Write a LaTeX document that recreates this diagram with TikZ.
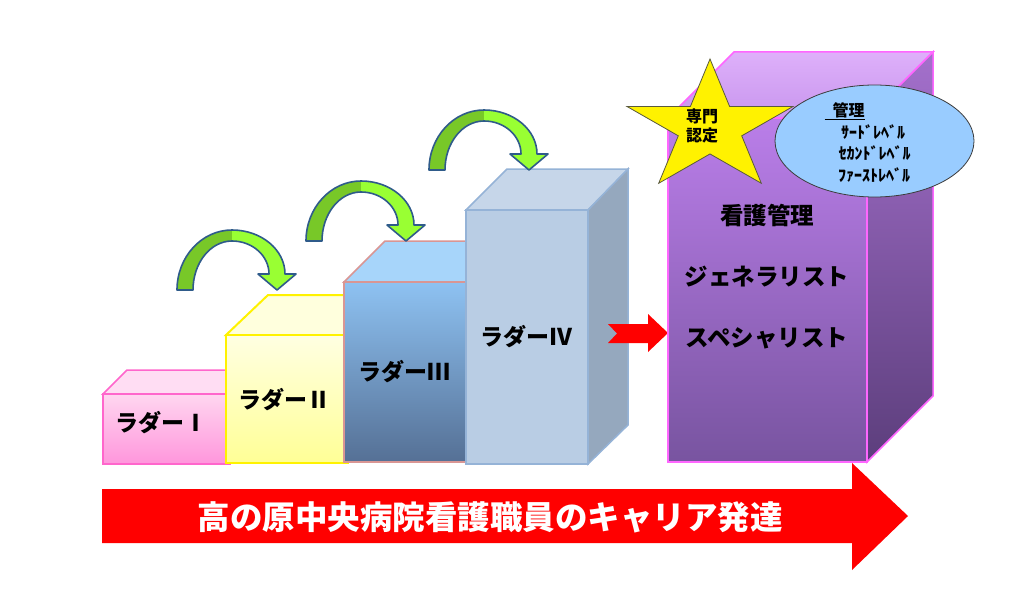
\documentclass[tikz,border=0pt]{standalone}
\usepackage{fontspec}
\newfontfamily\cjk{Noto Sans CJK JP}
\usetikzlibrary{shapes.geometric}
\definecolor{gdark}{HTML}{78C828}
\definecolor{glight}{HTML}{99FF33}
\definecolor{gline}{HTML}{2F5B8A}
\definecolor{pinkline}{HTML}{FF66CC}
\definecolor{blueline3}{HTML}{D99694}
\definecolor{line4}{HTML}{95B3D7}
\definecolor{vline}{HTML}{FF66FF}
\definecolor{ellfill}{HTML}{99CCFF}
\newcommand\GArrowPath{(177,290) arc[start angle=180,end angle=270,x radius=55,y radius=60]
  arc[start angle=270,end angle=360,x radius=53,y radius=44]
  -- (296,274) -- (277,290) -- (258,274) -- (269,274)
  arc[start angle=0,end angle=-90,x radius=37,y radius=33]
  arc[start angle=270,end angle=180,x radius=39,y radius=49] -- cycle}
\tikzset{
  lbl/.style={font=\cjk\bfseries\fontsize{23}{25}\selectfont, text=black, inner sep=0pt},
  vtxt/.style={font=\cjk\bfseries\fontsize{23.5}{26}\selectfont, text=black, inner sep=0pt},
  etxt/.style={font=\cjk\bfseries\fontsize{16}{18}\selectfont, text=black, inner sep=0pt},
  garrow/.pic={
    \fill[gdark] \GArrowPath;
    \begin{scope}\clip (232,200) rectangle (320,300); \fill[glight] \GArrowPath; \end{scope}
    \draw[gline, line width=1.6pt, line join=round] \GArrowPath;
  }
}
\begin{document}
\begin{tikzpicture}[x=1pt,y=-1pt]
\useasboundingbox[fill=white] (0,0) rectangle (1024,615);

% Box I
\draw[pinkline, line width=1.5pt, fill={rgb,255:red,255;green,221;blue,243}] (103,394) -- (127,370) -- (254,370) -- (230,394) -- cycle;
\draw[pinkline, line width=1.5pt, top color={rgb,255:red,255;green,214;blue,240}, bottom color={rgb,255:red,255;green,150;blue,220}] (103,394) rectangle (230,464);
% Box II
\draw[yellow, line width=2pt, fill={rgb,255:red,255;green,255;blue,221}] (226,335) -- (268,295) -- (390,295) -- (348,335) -- cycle;
\draw[yellow, line width=2pt, top color={rgb,255:red,255;green,255;blue,226}, bottom color={rgb,255:red,255;green,255;blue,150}] (226,335) rectangle (348,463);
% Box III
\draw[blueline3, line width=1.5pt, fill={rgb,255:red,167;green,213;blue,250}] (344,282) -- (385,241) -- (507,241) -- (466,282) -- cycle;
\draw[blueline3, line width=1.5pt, top color={rgb,255:red,142;green,194;blue,242}, bottom color={rgb,255:red,85;green,112;blue,149}] (344,282) rectangle (466,462);
% Box IV
\draw[line4, line width=1.5pt, fill={rgb,255:red,198;green,214;blue,233}] (466,210) -- (507,169) -- (628,169) -- (588,210) -- cycle;
\draw[line4, line width=1.5pt, fill={rgb,255:red,149;green,168;blue,190}] (588,210) -- (628,169) -- (628,425) -- (588,464) -- cycle;
\draw[line4, line width=1.5pt, fill={rgb,255:red,185;green,205;blue,228}] (466,210) rectangle (588,464);

% small red arrow
\fill[red] (608,324) -- (648,324) -- (648,314) -- (668,333) -- (648,352) -- (648,343) -- (608,343) -- (617,333.5) -- cycle;

% Box V
\draw[vline, line width=1.5pt, top color={rgb,255:red,222;green,176;blue,250}, bottom color={rgb,255:red,200;green,150;blue,238}] (668,118) -- (734,52) -- (933,52) -- (867,118) -- cycle;
\draw[vline, line width=1.5pt, top color={rgb,255:red,164;green,112;blue,204}, bottom color={rgb,255:red,92;green,62;blue,124}] (867,118) -- (933,52) -- (933,396) -- (867,462) -- cycle;
\draw[vline, line width=1.5pt, top color={rgb,255:red,186;green,126;blue,233}, bottom color={rgb,255:red,120;green,84;blue,160}] (668,118) rectangle (867,462);

% green arrows
\pic {garrow};
\begin{scope}[shift={(129,-49)}] \pic {garrow}; \end{scope}
\begin{scope}[shift={(252,-120)}] \pic {garrow}; \end{scope}

% star
\draw[fill=yellow, draw={rgb,255:red,90;green,90;blue,60}, line width=0.8pt, line join=miter]
  (710,59) \foreach \k [evaluate=\k as \r using {1-0.618*mod(\k,2)}] in {1,...,9} { -- ({710+\r*87.3*cos(90+36*\k)}, {127.7-\r*68.7*sin(90+36*\k)}) } -- cycle;
\node[etxt, align=center] (senmon) at (702,125.5) {専門\\[1pt]認定};

% ellipse
\node[ellipse, draw={rgb,255:red,60;green,60;blue,60}, line width=0.8pt, fill=ellfill, minimum width=199, minimum height=112, inner sep=0pt] (ell) at (874.5,141) {};
\node[etxt] (kanri) at (844.5,111) {\underline{\hspace{8pt}管理}};
\node[etxt] (l3) at (873,132) {ｻｰﾄﾞﾚﾍﾞﾙ};
\node[etxt] (l2) at (874.5,153) {ｾｶﾝﾄﾞﾚﾍﾞﾙ};
\node[etxt] (l1) at (874,175) {ﾌｧｰｽﾄﾚﾍﾞﾙ};

% labels
\node[lbl] (r1) at (161,423) {ラダーⅠ};
\node[lbl] (r2) at (284,400) {ラダーⅡ};
\node[lbl] (r3) at (404,372) {ラダーⅢ};
\node[lbl] (r4) at (526,337) {ラダーⅣ};

\node[vtxt] (kango) at (767,215) {看護管理};
\node[vtxt] (gen) at (767,277) {ジェネラリスト};
\node[vtxt] (spec) at (767,338) {スペシャリスト};

% big red arrow
\fill[red] (102,489) -- (852,489) -- (852,463) -- (908,516) -- (852,570) -- (852,543) -- (102,543) -- cycle;
\node[font=\cjk\bfseries\fontsize{32.5}{34}\selectfont, text=white, inner sep=0pt] (title) at (490,517) {高の原中央病院看護職員のキャリア発達};
\end{tikzpicture}
\end{document}
